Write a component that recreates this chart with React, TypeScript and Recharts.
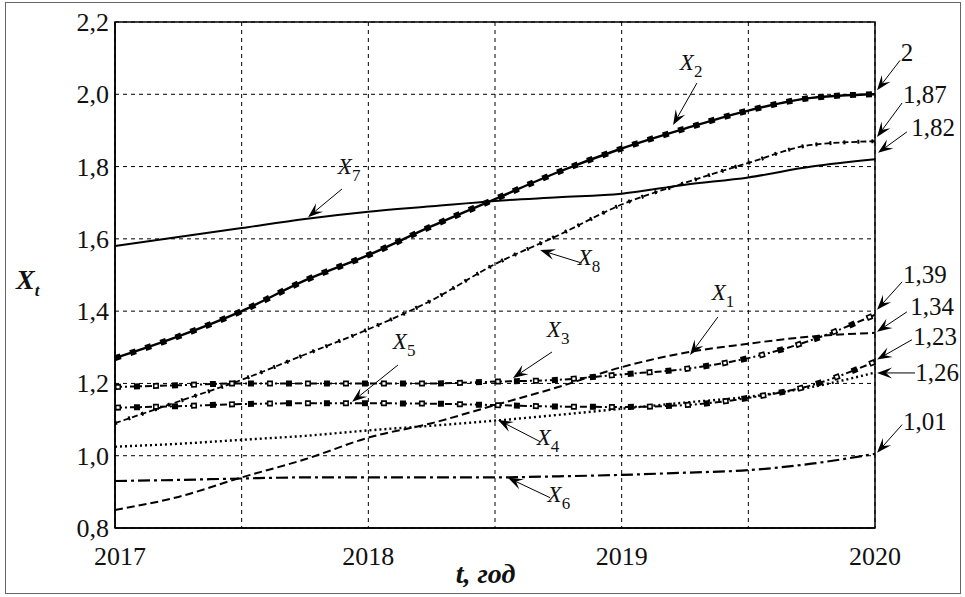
import React from "react";
import {
  LineChart,
  Line,
  XAxis,
  YAxis,
  CartesianGrid,
  ReferenceArea,
  ReferenceLine,
  ReferenceDot,
} from "recharts";

const years = [2017, 2017.25, 2017.5, 2017.75, 2018, 2018.25, 2018.5, 2018.75, 2019, 2019.25, 2019.5, 2019.75, 2020];
const x1 = [0.85, 0.886, 0.94, 0.99, 1.05, 1.09, 1.14, 1.19, 1.245, 1.285, 1.31, 1.33, 1.34];
const x2 = [1.27, 1.33, 1.4, 1.485, 1.555, 1.635, 1.71, 1.785, 1.85, 1.905, 1.955, 1.99, 2.0];
const x3 = [1.19, 1.195, 1.2, 1.2, 1.2, 1.2, 1.205, 1.21, 1.225, 1.24, 1.27, 1.32, 1.39];
const x4 = [1.025, 1.033, 1.044, 1.055, 1.07, 1.083, 1.097, 1.113, 1.13, 1.147, 1.163, 1.19, 1.23];
const x5 = [1.133, 1.137, 1.143, 1.145, 1.145, 1.144, 1.14, 1.136, 1.135, 1.14, 1.16, 1.195, 1.26];
const x6 = [0.93, 0.933, 0.937, 0.94, 0.94, 0.94, 0.94, 0.943, 0.947, 0.953, 0.96, 0.978, 1.005];
const x7 = [1.58, 1.605, 1.63, 1.655, 1.675, 1.69, 1.705, 1.715, 1.725, 1.75, 1.77, 1.8, 1.82];
const x8 = [1.09, 1.15, 1.21, 1.28, 1.35, 1.43, 1.53, 1.61, 1.695, 1.755, 1.81, 1.86, 1.87];

const xTicks = [2017, 2017.5, 2018, 2018.5, 2019, 2019.5, 2020];
const yTicks = [0.8, 1.0, 1.2, 1.4, 1.6, 1.8, 2.0, 2.2];

const data = years.map((t, i) => ({
  t,
  x1: x1[i],
  x2: x2[i],
  x3: x3[i],
  x4: x4[i],
  x5: x5[i],
  x6: x6[i],
  x7: x7[i],
  x8: x8[i],
}));

// callouts: label (lx, ly), arrow from (ax, ay) to tip (tx, ty), all in data units
const callouts = [
  { name: "X", sub: "7", lx: 2017.94, ly: 1.8, ax: 2017.896, ay: 1.738, tx: 2017.762, ty: 1.66 },
  { name: "X", sub: "2", lx: 2019.29, ly: 2.086, ax: 2019.297, ay: 2.031, tx: 2019.203, ty: 1.915 },
  { name: "X", sub: "8", lx: 2018.887, ly: 1.547, ax: 2018.843, ay: 1.533, tx: 2018.678, ty: 1.569 },
  { name: "X", sub: "5", lx: 2018.157, ly: 1.315, ax: 2018.117, ay: 1.251, tx: 2017.936, ty: 1.149 },
  { name: "X", sub: "3", lx: 2018.765, ly: 1.348, ax: 2018.725, ay: 1.287, tx: 2018.571, ty: 1.215 },
  { name: "X", sub: "1", lx: 2019.416, ly: 1.45, ax: 2019.38, ay: 1.384, tx: 2019.27, ty: 1.279 },
  { name: "X", sub: "4", lx: 2018.725, ly: 1.05, ax: 2018.678, ay: 1.039, tx: 2018.512, ty: 1.099 },
  { name: "X", sub: "6", lx: 2018.768, ly: 0.892, ax: 2018.717, ay: 0.884, tx: 2018.551, ty: 0.939 },
  { name: "2", sub: "", lx: 2020.126, ly: 2.114, ax: 2020.099, ay: 2.094, tx: 2020.008, ty: 2.011 },
  { name: "1,87", sub: "", lx: 2020.197, ly: 1.998, ax: 2020.107, ay: 1.976, tx: 2020.008, ty: 1.882 },
  { name: "1,82", sub: "", lx: 2020.229, ly: 1.907, ax: 2020.126, ay: 1.896, tx: 2020.012, ty: 1.838 },
  { name: "1,39", sub: "", lx: 2020.197, ly: 1.5, ax: 2020.107, ay: 1.481, tx: 2020.008, ty: 1.404 },
  { name: "1,34", sub: "", lx: 2020.225, ly: 1.412, ax: 2020.126, ay: 1.398, tx: 2020.008, ty: 1.343 },
  { name: "1,23", sub: "", lx: 2020.237, ly: 1.329, ax: 2020.146, ay: 1.321, tx: 2020.008, ty: 1.266 },
  { name: "1,26", sub: "", lx: 2020.245, ly: 1.229, ax: 2020.158, ay: 1.229, tx: 2020.008, ty: 1.229 },
  { name: "1,01", sub: "", lx: 2020.197, ly: 1.094, ax: 2020.107, ay: 1.086, tx: 2020.008, ty: 1.008 },
];

const FONT = "Liberation Serif, DejaVu Serif, serif";

const Arrow = (props: any) => {
  const { x1: ax, y1: ay, x2: bx, y2: by } = props;
  if ([ax, ay, bx, by].some((v) => typeof v !== "number" || isNaN(v))) return null;
  const dx = bx - ax;
  const dy = by - ay;
  const len = Math.sqrt(dx * dx + dy * dy) || 1;
  const ux = dx / len;
  const uy = dy / len;
  const hl = 15;
  const hw = 5.5;
  const bxp = bx - ux * hl;
  const byp = by - uy * hl;
  const nx = bx - ux * hl * 0.6;
  const ny = by - uy * hl * 0.6;
  const pts = [
    [bx, by],
    [bxp - uy * hw, byp + ux * hw],
    [nx, ny],
    [bxp + uy * hw, byp - ux * hw],
  ]
    .map((p) => p.join(","))
    .join(" ");
  return (
    <g>
      <line x1={ax} y1={ay} x2={nx} y2={ny} stroke="#000" strokeWidth={1} />
      <polygon points={pts} fill="#000" />
    </g>
  );
};

const makeLabel = (name: string, sub: string) => (props: any) => {
  const { cx, cy } = props;
  if (typeof cx !== "number" || typeof cy !== "number") return null;
  if (sub) {
    return (
      <text x={cx - 4} y={cy + 7} textAnchor="middle" fontFamily={FONT} fill="#111">
        <tspan fontSize={23} fontStyle="italic">{name}</tspan>
        <tspan fontSize={17} dy={7}>{sub}</tspan>
      </text>
    );
  }
  return (
    <text x={cx} y={cy + 8} textAnchor="middle" fontFamily={FONT} fontSize={25} fill="#111">
      {name}
    </text>
  );
};

const fmtY = (v: number) => v.toFixed(1).replace(".", ",");

const XTick = (props: any) => {
  const { x, y, payload } = props;
  const v = payload?.value;
  if (!Number.isInteger(v)) return null;
  return (
    <text x={x + (v === 2017 ? 5 : 0)} y={y + 37} textAnchor="middle" fontFamily={FONT} fontSize={26} fill="#111">
      {String(v)}
    </text>
  );
};

const YTick = (props: any) => {
  const { x, y, payload } = props;
  return (
    <text x={x - 6} y={y + 9} textAnchor="end" fontFamily={FONT} fontSize={26} fill="#111">
      {fmtY(payload.value)}
    </text>
  );
};

export default function App() {
  return (
    <div style={{ position: "relative", width: 965, height: 597, background: "#fff" }}>
      <style>{`body{margin:0;background:#fff}`}</style>
      <div
        style={{
          position: "absolute",
          left: 5,
          top: 2,
          width: 954,
          height: 590,
          border: "1px solid #666",
        }}
      />
      <LineChart
        width={965}
        height={597}
        data={data}
        margin={{ top: 22, right: 90, bottom: 39, left: 55 }}
        style={{ position: "absolute", left: 0, top: 0 }}
      >
        <CartesianGrid stroke="#000" strokeDasharray="4 4" strokeWidth={1} />
        <XAxis
          dataKey="t"
          type="number"
          domain={[2017, 2020]}
          ticks={xTicks}
          interval={0}
          tickLine={false}
          tickSize={0}
          tickMargin={0}
          height={30}
          axisLine={{ stroke: "#000", strokeWidth: 1.5 }}
          tick={<XTick />}
        />
        <YAxis
          type="number"
          domain={[0.8, 2.2]}
          ticks={yTicks}
          interval={0}
          tickLine={false}
          tickSize={0}
          tickMargin={0}
          width={60}
          axisLine={{ stroke: "#000", strokeWidth: 1.5 }}
          tick={<YTick />}
        />
        <ReferenceArea x1={2017} x2={2020} y1={0.8} y2={2.2} fill="none" stroke="#000" strokeWidth={1.5} fillOpacity={0} />

        <Line type="monotone" dataKey="x7" stroke="#000" strokeWidth={2} dot={false} isAnimationActive={false} />
        <Line type="monotone" dataKey="x2" stroke="#000" strokeWidth={2.4} dot={false} isAnimationActive={false} />
        <Line type="monotone" dataKey="x2" stroke="#000" strokeWidth={6} strokeDasharray="6 10" dot={false} isAnimationActive={false} />
        <Line type="monotone" dataKey="x8" stroke="#000" strokeWidth={1.8} strokeDasharray="6 3" dot={false} isAnimationActive={false} />
        <Line type="monotone" dataKey="x8" stroke="#000" strokeWidth={4} strokeDasharray="2 12" dot={false} isAnimationActive={false} />
        <Line type="monotone" dataKey="x1" stroke="#000" strokeWidth={2} strokeDasharray="8 4" dot={false} isAnimationActive={false} />
        <Line type="monotone" dataKey="x4" stroke="#000" strokeWidth={2.4} strokeDasharray="2 3" dot={false} isAnimationActive={false} />
        <Line type="monotone" dataKey="x6" stroke="#000" strokeWidth={2.2} strokeDasharray="12 4 3 4" dot={false} isAnimationActive={false} />
        <Line type="monotone" dataKey="x3" stroke="#000" strokeWidth={2} strokeDasharray="7 3 2 3" dot={false} isAnimationActive={false} />
        <Line type="monotone" dataKey="x3" stroke="#000" strokeWidth={6} strokeDasharray="6 13" dot={false} isAnimationActive={false} />
        <Line type="monotone" dataKey="x3" stroke="#fff" strokeWidth={2.5} strokeDasharray="3 35" strokeDashoffset={-1.5} dot={false} isAnimationActive={false} />
        <Line type="monotone" dataKey="x5" stroke="#000" strokeWidth={2} strokeDasharray="7 3 2 3" dot={false} isAnimationActive={false} />
        <Line type="monotone" dataKey="x5" stroke="#000" strokeWidth={6} strokeDasharray="6 13" dot={false} isAnimationActive={false} />
        <Line type="monotone" dataKey="x5" stroke="#fff" strokeWidth={2.5} strokeDasharray="3 35" strokeDashoffset={-1.5} dot={false} isAnimationActive={false} />

        {callouts.map((c, i) => (
          <ReferenceLine
            key={"a" + i}
            segment={[
              { x: c.ax, y: c.ay },
              { x: c.tx, y: c.ty },
            ]}
            ifOverflow="visible"
            shape={Arrow}
          />
        ))}
        {callouts.map((c, i) => (
          <ReferenceDot
            key={"l" + i}
            x={c.lx}
            y={c.ly}
            r={0}
            ifOverflow="visible"
            shape={makeLabel(c.name, c.sub)}
          />
        ))}
      </LineChart>
      <div
        style={{
          position: "absolute",
          left: 16,
          top: 264,
          fontFamily: FONT,
          fontWeight: "bold",
          fontStyle: "italic",
          fontSize: 28,
          lineHeight: "32px",
          color: "#111",
        }}
      >
        X<sub style={{ fontSize: 17 }}>t</sub>
      </div>
      <div
        style={{
          position: "absolute",
          left: 0,
          width: 965,
          top: 558,
          textAlign: "center",
          fontFamily: FONT,
          fontWeight: "bold",
          fontStyle: "italic",
          fontSize: 28,
          lineHeight: "32px",
          color: "#111",
        }}
      >
        <span style={{ position: "relative", left: 3 }}>t, год</span>
      </div>
    </div>
  );
}
